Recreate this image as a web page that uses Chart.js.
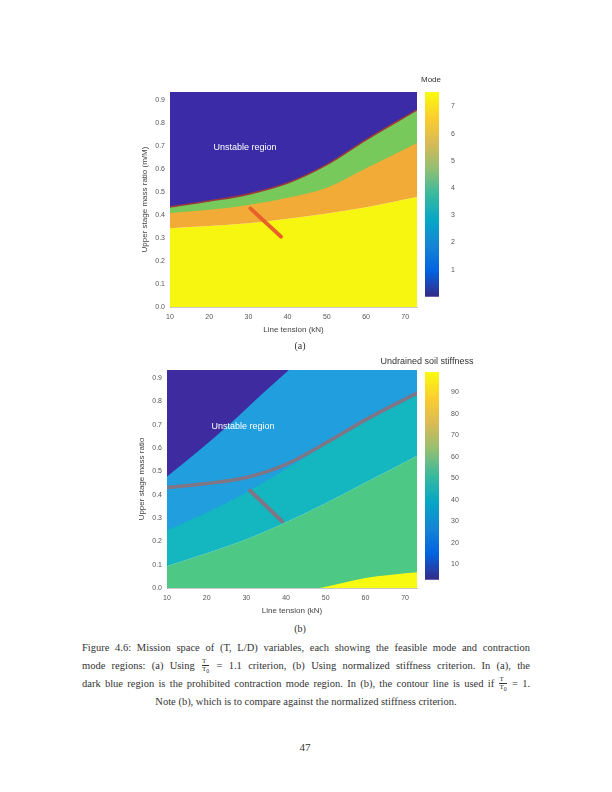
<!DOCTYPE html>
<html>
<head>
<meta charset="utf-8">
<script src="https://cdn.jsdelivr.net/npm/chart.js@4.4.1/dist/chart.umd.min.js"></script>
<style>
  html, body { margin: 0; padding: 0; background: #fff; }
  #page { position: relative; width: 612px; height: 792px; overflow: hidden; font-family: "Liberation Serif", serif; color: #333; }
  .box { position: absolute; }
  .box canvas { display: block; }
  .lbl { position: absolute; white-space: nowrap; font-family: "Liberation Sans", Arial, sans-serif; }
  .inplot { color: #fff; font-size: 9px; transform: translate(-50%, -50%); }
  .cbt { font-size: 8px; color: #333; transform: translateX(-50%); }
  .sub { font-size: 10px; color: #333; transform: translate(-50%, -50%); font-family: "Liberation Serif", serif; }
  .cap { position: absolute; left: 82px; top: 639px; width: 448px; font-size: 10.5px; line-height: 18px; }
  .cap .j { text-align: justify; text-align-last: justify; height: 18px; }
  .cap .c { text-align: center; }
  .frac { display: inline-block; vertical-align: middle; text-align: center; font-size: 7px; line-height: 7px; margin: 0 1px; }
  .frac span { display: block; }
  .frac span:first-child { border-bottom: 0.6px solid #333; }
  .pgno { position: absolute; left: 305px; top: 747px; transform: translate(-50%, -50%); font-size: 11px; }
</style>
</head>
<body>
<div id="page">
  <div class="box" style="left:132px;top:82px;width:293px;height:255px"><canvas id="chart-a"></canvas></div>
  <div class="box" style="left:425px;top:82px;width:54px;height:223px"><canvas id="cbar-a"></canvas></div>
  <div class="box" style="left:129px;top:360px;width:296px;height:258px"><canvas id="chart-b"></canvas></div>
  <div class="box" style="left:425px;top:362px;width:54px;height:226px"><canvas id="cbar-b"></canvas></div>

  <div class="lbl inplot" style="left:245px;top:147px">Unstable region</div>
  <div class="lbl inplot" style="left:243px;top:426px">Unstable region</div>
  <div class="lbl cbt" style="left:431px;top:75px">Mode</div>
  <div class="lbl cbt" style="left:427px;top:356px;font-size:9px">Undrained soil stiffness</div>
  <div class="lbl sub" style="left:300px;top:345px">(a)</div>
  <div class="lbl sub" style="left:300px;top:628px">(b)</div>

  <div class="cap">
    <div class="j">Figure 4.6: Mission space of (T, L/D) variables, each showing the feasible mode and contraction</div>
    <div class="j">mode regions: (a) Using <span class="frac"><span>T</span><span>T<sub>0</sub></span></span> = 1.1 criterion, (b) Using normalized stiffness criterion. In (a), the</div>
    <div class="j">dark blue region is the prohibited contraction mode region. In (b), the contour line is used if <span class="frac"><span>T</span><span>T<sub>0</sub></span></span> = 1.</div>
    <div class="c">Note (b), which is to compare against the normalized stiffness criterion.</div>
  </div>
  <div class="pgno">47</div>
</div>

<script>
// 共用 x 网格
const xGrid = [10, 20, 30, 40, 50, 60, 73];
const xTicks = [10, 20, 30, 40, 50, 60, 70];
const yTicks = [0, 0.1, 0.2, 0.3, 0.4, 0.5, 0.6, 0.7, 0.8, 0.9];

// (a) 区域边界
const aBlueEdge = [0.435, 0.461, 0.491, 0.539, 0.619, 0.727, 0.857];
const aGreenEdge = [0.409, 0.423, 0.444, 0.475, 0.519, 0.603, 0.713];
const aOrangeEdge = [0.343, 0.352, 0.364, 0.384, 0.407, 0.434, 0.478];
const aSegX = [30.5, 38.3];
const aSegY = [0.429, 0.306];

// (b) 区域边界
const bIndigoX = [10, 18.3, 25.9, 33.4, 40.7];
const bIndigoY = [0.478, 0.593, 0.704, 0.823, 0.935];
const bTealEdge = [0.247, 0.324, 0.410, 0.510, 0.615, 0.713, 0.828];
const bGreenEdge = [0.094, 0.149, 0.209, 0.282, 0.363, 0.452, 0.567];
const bContour = [0.431, 0.448, 0.474, 0.530, 0.622, 0.721, 0.836];
const bYellowX = [48.5, 55, 60, 66, 73];
const bYellowY = [0, 0.025, 0.043, 0.056, 0.068];
const bSegX = [30.9, 39.0];
const bSegY = [0.418, 0.286];

// colorbars
const cbATicks = [1, 2, 3, 4, 5, 6, 7];
const cbARange = [0, 7.53];
const cbBTicks = [10, 20, 30, 40, 50, 60, 70, 80, 90];
const cbBRange = [2.9, 99.4];
const parula = ["#352a87", "#0363e1", "#1485d4", "#06a7c6", "#38b99e", "#92bf73", "#d9ba56", "#fcce2e", "#f9fb0e"];

const pts = (xs, ys) => xs.map((x, i) => ({ x, y: ys[i] }));
const tickFont = { family: "Liberation Sans", size: 7 };
const titleFont = { family: "Liberation Sans", size: 8 };

// 注意：dataset 0 最后绘制（在最上层），所以线条放在前面
function area(data, fill, color, extra) {
  return Object.assign({ data, fill, backgroundColor: color, borderWidth: 0, pointRadius: 0, cubicInterpolationMode: "monotone" }, extra || {});
}
function line(data, color, width) {
  return { data, fill: false, borderColor: color, borderWidth: width, pointRadius: 0, cubicInterpolationMode: "monotone", borderCapStyle: "round" };
}

function plotOpts(xTitle, yTitle) {
  return {
    responsive: true, maintainAspectRatio: false, animation: false,
    layout: { padding: { top: 10, right: 8, left: 0, bottom: 0 } },
    plugins: { legend: { display: false }, tooltip: { enabled: false } },
    scales: {
      x: {
        type: "linear", min: 10, max: 73,
        afterBuildTicks: (s) => { s.ticks = xTicks.map((v) => ({ value: v })); },
        afterFit: (s) => { s.height = 30; },
        grid: { display: true, drawOnChartArea: false, drawTicks: false },
        border: { display: true, color: "#bbb", width: 0.8 },
        ticks: { color: "#555", font: tickFont, padding: 6, maxRotation: 0 },
        title: { display: true, text: xTitle, color: "#444", font: titleFont, padding: { top: 0, bottom: 2 } },
      },
      y: {
        type: "linear", min: 0, max: 0.935,
        afterBuildTicks: (s) => { s.ticks = yTicks.map((v) => ({ value: v })); },
        afterFit: (s) => { s.width = 38; },
        grid: { display: true, drawOnChartArea: false, drawTicks: false },
        border: { display: true, color: "#bbb", width: 0.8 },
        ticks: { color: "#555", font: tickFont, padding: 5, callback: (v) => v.toFixed(1) },
        title: { display: true, text: yTitle, color: "#444", font: titleFont, padding: { top: 8, bottom: 0 } },
      },
    },
  };
}

function cbarOpts(range, ticks) {
  return {
    responsive: true, maintainAspectRatio: false, animation: false,
    layout: { padding: { top: 10, right: 0, left: 0, bottom: 0 } },
    plugins: { legend: { display: false }, tooltip: { enabled: false } },
    scales: {
      x: { display: false },
      y: {
        position: "right", min: range[0], max: range[1],
        afterBuildTicks: (s) => { s.ticks = ticks.map((v) => ({ value: v })); },
        afterFit: (s) => { s.width = 40; },
        grid: { display: false },
        border: { display: false },
        ticks: { color: "#555", font: tickFont, padding: 4 },
      },
    },
  };
}

function parulaFill(c) {
  const a = c.chart.chartArea;
  if (!a) return null;
  const g = c.chart.ctx.createLinearGradient(0, a.bottom, 0, a.top);
  parula.forEach((col, i) => g.addColorStop(i / (parula.length - 1), col));
  return g;
}

// (a)
new Chart(document.getElementById("chart-a"), {
  type: "line",
  data: {
    datasets: [
      line(pts(aSegX, aSegY), "#e8602a", 4),
      area(pts(xGrid, aBlueEdge), "end", "#3b2ba6", { borderColor: "#9b3a3a", borderWidth: 1.6 }),
      area(pts(xGrid, aGreenEdge), "end", "#76c95a"),
      area(pts(xGrid, aOrangeEdge), "end", "#f2ab36"),
      area(pts(xGrid, aOrangeEdge), "start", "#f7f611"),
    ],
  },
  options: plotOpts("Line tension (kN)", "Upper stage mass ratio (m/M)"),
});

new Chart(document.getElementById("cbar-a"), {
  type: "bar",
  data: { labels: ["c"], datasets: [{ data: [cbARange], backgroundColor: parulaFill, barPercentage: 1, categoryPercentage: 1, borderWidth: 0 }] },
  options: cbarOpts(cbARange, cbATicks),
});

// (b)
new Chart(document.getElementById("chart-b"), {
  type: "line",
  data: {
    datasets: [
      line(pts(bSegX, bSegY), "#7f7584", 4),
      line(pts(xGrid, bContour), "#7f7584", 3.5),
      area(pts(bIndigoX, bIndigoY), "end", "#3d2b9f"),
      area(pts(bYellowX, bYellowY), "start", "#f8fa12"),
      area(pts(xGrid, bTealEdge), "end", "#209ede"),
      area(pts(xGrid, bGreenEdge), "end", "#14b6bf"),
      area(pts(xGrid, bGreenEdge), "start", "#4ec985"),
    ],
  },
  options: plotOpts("Line tension (kN)", "Upper stage mass ratio"),
});

new Chart(document.getElementById("cbar-b"), {
  type: "bar",
  data: { labels: ["c"], datasets: [{ data: [cbBRange], backgroundColor: parulaFill, barPercentage: 1, categoryPercentage: 1, borderWidth: 0 }] },
  options: cbarOpts(cbBRange, cbBTicks),
});
</script>
</body>
</html>
